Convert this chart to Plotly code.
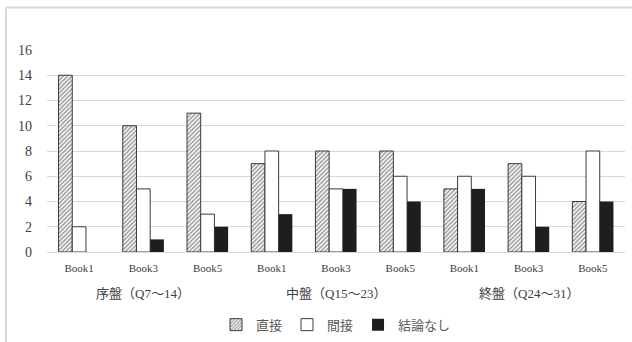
import plotly.graph_objects as go

phases = ["序盤（Q7～14）", "中盤（Q15～23）", "終盤（Q24～31）"]
books = ["Book1", "Book3", "Book5"]
series_names = ["直接", "間接", "結論なし"]
direct = [14, 10, 11, 7, 8, 8, 5, 7, 4]
indirect = [2, 5, 3, 8, 5, 6, 6, 6, 8]
no_conclusion = [0, 1, 2, 3, 5, 4, 5, 2, 4]

cats = [p + "|" + b for p in phases for b in books]
tick_text = [b for _ in phases for b in books]

serif = "Liberation Serif"
cjk = "Liberation Serif, Noto Sans CJK JP"
edge = "#3a3a3a"

fig = go.Figure()
fig.add_trace(go.Bar(
    x=cats, y=direct, name=series_names[0],
    marker=dict(color="white", line=dict(color=edge, width=1),
                pattern=dict(shape="/", fgcolor="#333333", bgcolor="white", size=3, solidity=0.5)),
))
fig.add_trace(go.Bar(
    x=cats, y=indirect, name=series_names[1],
    marker=dict(color="white", line=dict(color=edge, width=1)),
))
fig.add_trace(go.Bar(
    x=cats, y=no_conclusion, name=series_names[2],
    marker=dict(color="#1e1e1e", line=dict(width=0)),
))

annotations = []
for i, p in enumerate(phases):
    annotations.append(dict(x=cats[i * len(books) + 1], xref="x", y=-0.205, yref="paper",
                            text=p, showarrow=False, yanchor="middle",
                            font=dict(size=13, family=cjk, color="#404040")))

fig.update_layout(
    width=632, height=342,
    margin=dict(l=47, r=7, t=50, b=90, autoexpand=False),
    paper_bgcolor="white", plot_bgcolor="white",
    barmode="group", bargap=0.36, bargroupgap=0,
    font=dict(family=cjk, color="#595959", size=11),
    showlegend=True,
    legend=dict(orientation="h", x=0.5, xanchor="center", y=-0.36, yanchor="middle",
                font=dict(size=13, color="#595959", family=cjk), itemwidth=30,
                traceorder="normal"),
    annotations=annotations,
    shapes=[dict(type="line", xref="paper", yref="paper", x0=-0.071, x1=1.02, y0=1.21, y1=1.21,
                 line=dict(color="#d9d9d9", width=2)),
            dict(type="line", xref="paper", yref="paper", x0=-0.071, x1=-0.071, y0=1.21, y1=-0.5,
                 line=dict(color="#d9d9d9", width=2))],
)
fig.update_xaxes(
    type="category", tickvals=cats, ticktext=tick_text, showline=True, linecolor="#d9d9d9",
    linewidth=1, tickfont=dict(size=11, family=serif, color="#404040"), ticks="",
    ticklabelstandoff=6,
)
fig.update_yaxes(
    range=[0, 16], dtick=2, showgrid=True, gridcolor="#d9d9d9", gridwidth=1,
    zeroline=False, showline=False, tickfont=dict(size=14, family=serif, color="#404040"),
    ticks="", ticklabelstandoff=14,
)

fig.write_html("out.html")
